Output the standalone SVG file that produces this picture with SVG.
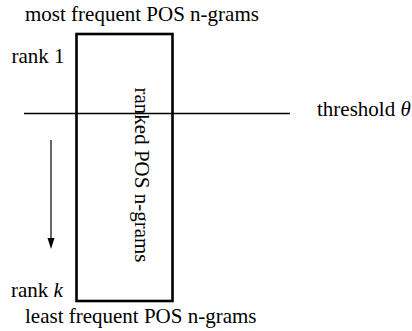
<svg xmlns="http://www.w3.org/2000/svg" width="412" height="331" viewBox="0 0 412 331">
<style>
text{font-family:"Liberation Serif","Times New Roman",serif;font-size:21px;fill:#000}
.ln{stroke:#000;fill:none}
</style>
<g id="box">
<rect class="ln" x="76.5" y="34" width="96" height="267" stroke-width="2.6"/>
<text transform="translate(135,87.5) rotate(90)">ranked POS n-grams</text>
</g>
<g id="labels">
<text x="25" y="20.5">most frequent POS n-grams</text>
<text x="11.5" y="62.5">rank 1</text>
<text x="317" y="116">threshold <tspan font-style="italic">θ</tspan></text>
<text x="11" y="297">rank <tspan font-style="italic">k</tspan></text>
<text x="25" y="322.7">least frequent POS n-grams</text>
</g>
<g id="connectors">
<line class="ln" x1="24" y1="113.5" x2="290" y2="113.5" stroke-width="1.5"/>
<line class="ln" x1="51" y1="140" x2="51" y2="240" stroke-width="1.2"/>
<path d="M47.5,238 L54.5,238 L51,249 Z" fill="#000"/>
</g>
</svg>
